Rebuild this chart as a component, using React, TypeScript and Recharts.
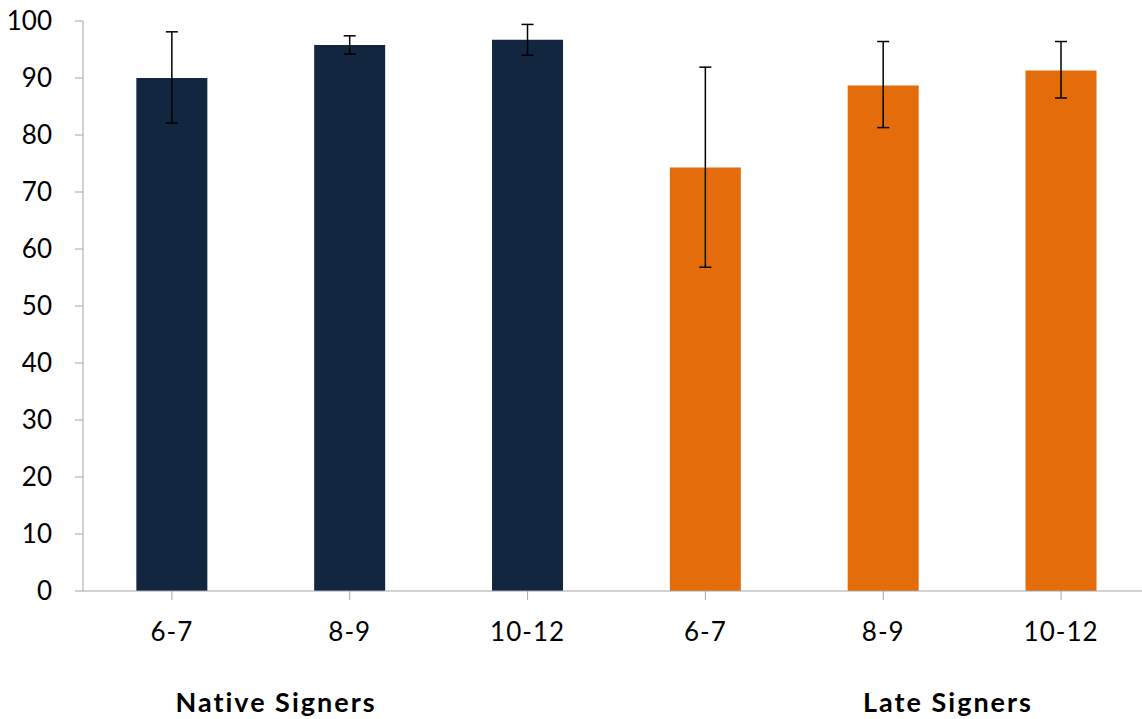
import { BarChart, Bar, Cell, XAxis, YAxis, ErrorBar } from 'recharts';

const ageGroups = ['6-7', '8-9', '10-12', '6-7', '8-9', '10-12'];
const groupOf = ['native', 'native', 'native', 'late', 'late', 'late'];
const accuracy = [90.0, 95.8, 96.7, 74.3, 88.7, 91.3];
const errTop = [98.1, 97.4, 99.4, 91.9, 96.4, 96.4];
const errBottom = [82.1, 94.2, 94.0, 56.8, 81.3, 86.5];
const yTicks = [0, 10, 20, 30, 40, 50, 60, 70, 80, 90, 100];

const COLORS: Record<string, string> = {
  native: '#132640',
  late: '#E46C0A',
};

const FONT = 'Lato, "Open Sans", sans-serif';

const data = ageGroups.map((age, i) => ({
  key: `${groupOf[i]}-${age}`,
  age,
  group: groupOf[i],
  value: accuracy[i],
  err: [accuracy[i] - errBottom[i], errTop[i] - accuracy[i]],
}));

function GroupLabel({ text, center }: { text: string; center: number }) {
  return (
    <div
      style={{
        position: 'absolute',
        left: center,
        top: 685,
        transform: 'translateX(-50%)',
        fontFamily: FONT,
        fontWeight: 700,
        fontSize: 27,
        letterSpacing: 2,
        color: '#000',
        whiteSpace: 'nowrap',
      }}
    >
      {text}
    </div>
  );
}

export default function App() {
  return (
    <div
      style={{
        position: 'absolute',
        left: 0,
        top: 0,
        width: 1142,
        height: 719,
        overflow: 'hidden',
        background: '#fff',
      }}
    >
      <BarChart
        width={1160}
        height={719}
        data={data}
        margin={{ top: 21, right: 10, bottom: 88, left: 0 }}
        barCategoryGap="30%"
      >
        <XAxis
          dataKey="key"
          tickFormatter={(_v, i) => data[i]?.age ?? ''}
          height={40}
          tickSize={9}
          tickMargin={23}
          stroke="#A6A6A6"
          tick={{ fill: '#000', fontSize: 26, fontFamily: FONT, letterSpacing: 1 }}
          interval={0}
        />
        <YAxis
          domain={[0, 100]}
          ticks={yTicks}
          width={83}
          tickSize={8}
          tickMargin={23}
          stroke="#A6A6A6"
          tick={{ fill: '#000', fontSize: 26, fontFamily: FONT }}
          interval={0}
        />
        <Bar dataKey="value" isAnimationActive={false}>
          {data.map((d) => (
            <Cell key={d.key} fill={COLORS[d.group]} />
          ))}
          <ErrorBar dataKey="err" width={6} stroke="#000" strokeWidth={1.5} />
        </Bar>
      </BarChart>
      <GroupLabel text="Native Signers" center={276} />
      <GroupLabel text="Late Signers" center={948} />
    </div>
  );
}
